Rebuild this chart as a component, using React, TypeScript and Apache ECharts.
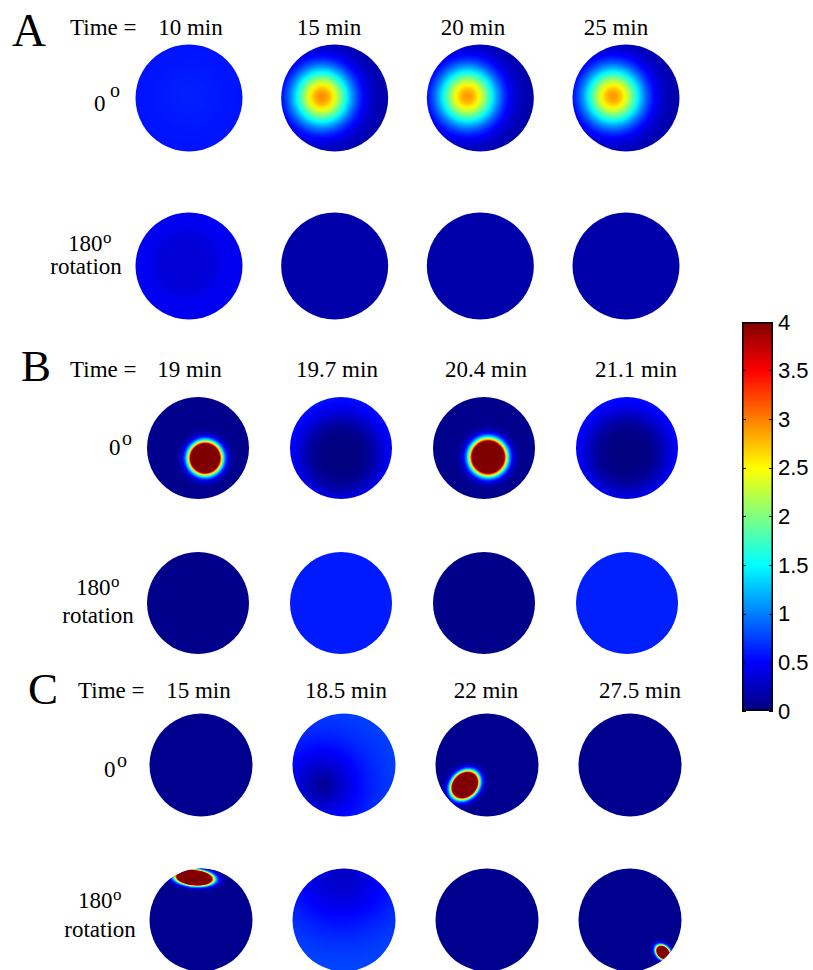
import React, { useEffect, useRef } from "react";
import * as echarts from "echarts";

// ---------------- data ----------------
const timesA = ["10 min", "15 min", "20 min", "25 min"];
const timesB = ["19 min", "19.7 min", "20.4 min", "21.1 min"];
const timesC = ["15 min", "18.5 min", "22 min", "27.5 min"];
const panelLetters = ["A", "B", "C"];
const timePrefix = "Time =";
const angleLabels = ["0", "180"];
const degreeMark = "o";
const rotationWord = "rotation";

const colorMin = 0;
const colorMax = 4;
const colorStep = 0.5;

// disk fields: [peak, base, offsetX, offsetY, spread, power]  (offsets / spread in disk radii)
const fieldA0 = [
  [0.62, 0.57, 0, -0.05, 0.6, 2],
  [2.95, 0.15, -0.24, -0.02, 0.54, 2],
  [2.9, 0.15, -0.24, -0.03, 0.54, 2],
  [2.9, 0.15, -0.24, -0.03, 0.54, 2],
];
const fieldA180 = [
  [0.34, 0.44, -0.05, -0.05, 0.62, 8],
  [0.17, 0.17, 0, 0, 1, 2],
  [0.17, 0.17, 0, 0, 1, 2],
  [0.17, 0.17, 0, 0, 1, 2],
];
const fieldB0 = [
  [0.05, 0.05, 0, 0, 1, 2],
  [0.0, 0.58, 0, 0.14, 0.85, 4],
  [0.05, 0.05, 0, 0, 1, 2],
  [0.0, 0.58, 0, 0.1, 0.85, 4],
];
const fieldB180 = [
  [0.04, 0.04, 0, 0, 1, 2],
  [0.6, 0.6, 0, 0, 1, 2],
  [0.04, 0.04, 0, 0, 1, 2],
  [0.62, 0.62, 0, 0, 1, 2],
];
const fieldC0 = [
  [0.06, 0.06, 0, 0, 1, 2],
  [0.1, 0.78, -0.43, 0.39, 0.75, 1.5],
  [0.06, 0.06, 0, 0, 1, 2],
  [0.06, 0.06, 0, 0, 1, 2],
];
const fieldC180 = [
  [0.06, 0.06, 0, 0, 1, 2],
  [0.28, 0.8, -0.05, -0.9, 1.1, 2],
  [0.06, 0.06, 0, 0, 1, 2],
  [0.06, 0.06, 0, 0, 1, 2],
];

// hot spots: [offsetX, offsetY, widthX, widthY, angleDeg, amplitude] (in disk radii)
const spotA0 = [null, null, null, null];
const spotA180 = [null, null, null, null];
const spotB0 = [[0.14, 0.2, 0.224, 0.224, 0, 20], null, [0.08, 0.18, 0.247, 0.247, 0, 20], null];
const spotB180 = [null, null, null, null];
const spotC0 = [null, null, [-0.43, 0.39, 0.2, 0.16, 45, 24], null];
const spotC180 = [[-0.13, -0.82, 0.24, 0.1, -5, 28.6], null, null, [0.64, 0.63, 0.12, 0.09, -45, 14]];

const cells = [
  [0, 0], [1, 0], [2, 0], [3, 0],
  [0, 1], [1, 1], [2, 1], [3, 1],
];

// ---------------- layout ----------------
const SERIF = "'Liberation Serif', 'Times New Roman', serif";
const SANS = "'Liberation Sans', Arial, sans-serif";

const panels = [
  {
    grid: { left: 189, top: 98, width: 437, height: 168 },
    R: 53.5,
    times: timesA,
    fields: [fieldA0, fieldA180],
    spots: [spotA0, spotA180],
    letter: [12, 30, 47],
    timeLeft: 70,
    timeY: 27.5,
    timeX: [190.5, 329, 473, 616],
    zero: [94, 103, 110, 90],
    oneEighty: [68, 243, 103, 237],
    rotation: [86, 266],
  },
  {
    grid: { left: 198, top: 448, width: 429, height: 155 },
    R: 51,
    times: timesB,
    fields: [fieldB0, fieldB180],
    spots: [spotB0, spotB180],
    letter: [21, 366, 45],
    timeLeft: 70,
    timeY: 369.5,
    timeX: [189.5, 337, 486, 636],
    zero: [109, 447, 122, 438],
    oneEighty: [76, 587, 111, 581],
    rotation: [98, 615],
  },
  {
    grid: { left: 201, top: 765, width: 429, height: 155 },
    R: 51.5,
    times: timesC,
    fields: [fieldC0, fieldC180],
    spots: [spotC0, spotC180],
    letter: [28, 689, 45],
    timeLeft: 78,
    timeY: 690.5,
    timeX: [198.5, 346, 486, 640],
    zero: [104, 769, 117, 760],
    oneEighty: [78, 900, 113, 894],
    rotation: [100, 929],
  },
];

const colorbarGrid = { left: 742, top: 322, width: 31, height: 389 };

// ---------------- helpers ----------------
function jet(v: number): string {
  const t = Math.max(0, Math.min(1, (v - colorMin) / (colorMax - colorMin)));
  const c = (x: number) => Math.round(255 * Math.max(0, Math.min(1, 1.5 - Math.abs(4 * t - x))));
  return `rgb(${c(3)},${c(2)},${c(1)})`;
}

function diskFill(f: number[]) {
  const [peak, base, ox, oy, s, p] = f;
  const reach = 1 + Math.hypot(ox, oy);
  const N = 24;
  const stops = [];
  for (let k = 0; k <= N; k++) {
    const d = (reach * k) / N;
    const v = base + (peak - base) * Math.exp(-Math.pow(d / s, p));
    stops.push({ offset: k / N, color: jet(v) });
  }
  return new echarts.graphic.RadialGradient(0.5 + ox / 2, 0.5 + oy / 2, reach / 2, stops);
}

function spotFill(sp: number[], base: number) {
  const A = sp[5];
  const k = Math.sqrt(Math.log(A / 0.02));
  const N = 48;
  const stops = [];
  for (let i = 0; i <= N; i++) {
    const u = i / N;
    const v = base + A * Math.exp(-Math.pow(u * k, 2));
    stops.push({ offset: u, color: jet(Math.min(v, colorMax)) });
  }
  return { fill: new echarts.graphic.RadialGradient(0.5, 0.5, 0.5, stops), k };
}

function makeRender(p: any) {
  return (params: any, api: any) => {
    const col = api.value(0);
    const row = api.value(1);
    const [cx, cy] = api.coord([col, row]);
    const f = p.fields[row][col];
    const sp = p.spots[row][col];
    const R = p.R;
    const children: any[] = [
      { type: "circle", shape: { cx, cy, r: R }, style: { fill: diskFill(f) } },
    ];
    if (sp) {
      const { fill, k } = spotFill(sp, f[1]);
      children.push({
        type: "group",
        clipPath: { type: "circle", shape: { cx, cy, r: R } },
        children: [
          {
            type: "ellipse",
            x: cx + sp[0] * R,
            y: cy + sp[1] * R,
            rotation: (sp[4] * Math.PI) / 180,
            shape: { cx: 0, cy: 0, rx: k * sp[2] * R, ry: k * sp[3] * R },
            style: { fill },
          },
        ],
      });
    }
    return { type: "group", children };
  };
}

function txt(text: string, x: number, y: number, size: number, align = "left", family = SERIF) {
  return {
    type: "text",
    x,
    y,
    silent: true,
    style: { text, fontFamily: family, fontSize: size, fill: "#000", align, verticalAlign: "middle" },
  };
}

function buildOption() {
  const texts: any[] = [];
  panels.forEach((p, i) => {
    texts.push(txt(panelLetters[i], p.letter[0], p.letter[1], p.letter[2]));
    texts.push(txt(timePrefix, p.timeLeft, p.timeY, 23));
    p.times.forEach((t, j) => texts.push(txt(t, p.timeX[j], p.timeY, 23, "center")));
    texts.push(txt(angleLabels[0], p.zero[0], p.zero[1], 23));
    texts.push(txt(degreeMark, p.zero[2], p.zero[3], 20));
    texts.push(txt(angleLabels[1], p.oneEighty[0], p.oneEighty[1], 23));
    texts.push(txt(degreeMark, p.oneEighty[2], p.oneEighty[3], 17));
    texts.push(txt(rotationWord, p.rotation[0], p.rotation[1], 23, "center"));
  });

  const jetStops = [0, 1 / 8, 3 / 8, 5 / 8, 7 / 8, 1].map((o) => ({
    offset: o,
    color: jet(colorMin + o * (colorMax - colorMin)),
  }));

  const grid: any[] = panels.map((p) => ({ ...p.grid, show: false, containLabel: false, outerBoundsMode: "none" }));
  grid.push({ ...colorbarGrid, show: false, containLabel: false, outerBoundsMode: "none" });

  const xAxis: any[] = panels.map((p, i) => ({ type: "value", gridIndex: i, min: 0, max: 3, show: false }));
  xAxis.push({ type: "category", gridIndex: 3, data: ["scale"], show: false, boundaryGap: true });

  const yAxis: any[] = panels.map((p, i) => ({
    type: "value",
    gridIndex: i,
    min: 0,
    max: 1,
    inverse: true,
    show: false,
  }));
  const cbAxis = (position: string, labels: boolean) => ({
    type: "value",
    gridIndex: 3,
    position,
    min: colorMin,
    max: colorMax,
    interval: colorStep,
    z: 10,
    axisLine: { show: false },
    splitLine: { show: false },
    axisTick: { show: true, inside: true, length: 4, lineStyle: { color: "#000", width: 1 } },
    axisLabel: { show: labels, color: "#000", fontSize: 22, fontFamily: SANS, margin: 5 },
  });
  yAxis.push(cbAxis("right", true));
  yAxis.push(cbAxis("left", false));

  const series: any[] = panels.map((p, i) => ({
    type: "custom",
    coordinateSystem: "cartesian2d",
    xAxisIndex: i,
    yAxisIndex: i,
    data: cells,
    silent: true,
    renderItem: makeRender(p),
  }));
  series.push({
    type: "bar",
    xAxisIndex: 3,
    yAxisIndex: 3,
    data: [colorMax],
    barWidth: "100%",
    silent: true,
    itemStyle: {
      color: new echarts.graphic.LinearGradient(0, 1, 0, 0, jetStops),
      borderColor: "#000",
      borderWidth: 1.5,
    },
  });

  return {
    animation: false,
    backgroundColor: "#fff",
    grid,
    xAxis,
    yAxis,
    series,
    graphic: { elements: texts },
  };
}

export default function App() {
  const ref = useRef<HTMLDivElement>(null);
  useEffect(() => {
    const chart = echarts.init(ref.current!, undefined, { renderer: "svg" });
    chart.setOption(buildOption() as any);
    return () => chart.dispose();
  }, []);
  return (
    <div
      ref={ref}
      style={{ position: "absolute", left: 0, top: 0, width: 813, height: 970 }}
    />
  );
}
